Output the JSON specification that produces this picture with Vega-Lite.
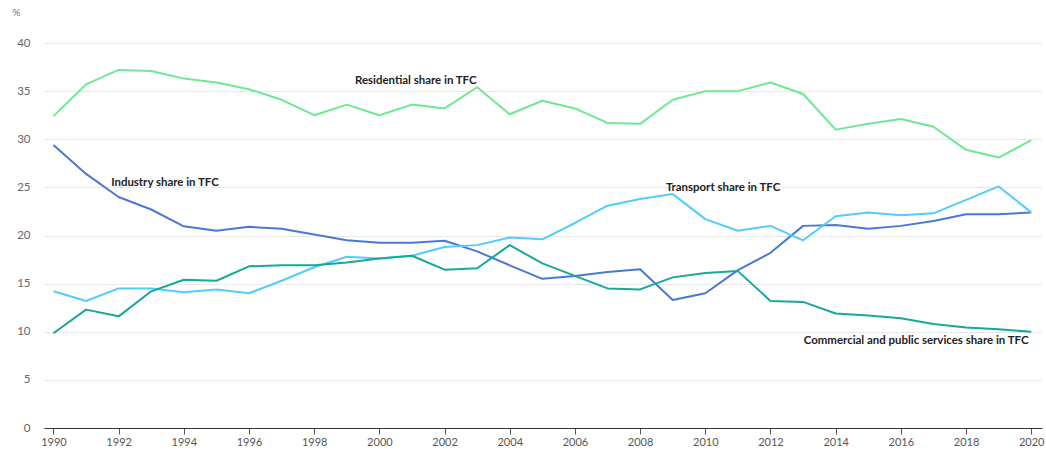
{
  "$schema": "https://vega.github.io/schema/vega-lite/v6.json",
  "width": 998,
  "height": 385,
  "autosize": {"type": "none"},
  "padding": {"left": 44, "top": 43, "right": 4, "bottom": 22},
  "background": "white",
  "config": {"view": {"stroke": null}, "font": "Lato"},
  "datasets": {
    "series": [
      {"year": 1990, "sector": "Residential", "share": 32.4},
      {"year": 1991, "sector": "Residential", "share": 35.7},
      {"year": 1992, "sector": "Residential", "share": 37.2},
      {"year": 1993, "sector": "Residential", "share": 37.1},
      {"year": 1994, "sector": "Residential", "share": 36.3},
      {"year": 1995, "sector": "Residential", "share": 35.9},
      {"year": 1996, "sector": "Residential", "share": 35.2},
      {"year": 1997, "sector": "Residential", "share": 34.1},
      {"year": 1998, "sector": "Residential", "share": 32.5},
      {"year": 1999, "sector": "Residential", "share": 33.6},
      {"year": 2000, "sector": "Residential", "share": 32.5},
      {"year": 2001, "sector": "Residential", "share": 33.6},
      {"year": 2002, "sector": "Residential", "share": 33.2},
      {"year": 2003, "sector": "Residential", "share": 35.4},
      {"year": 2004, "sector": "Residential", "share": 32.6},
      {"year": 2005, "sector": "Residential", "share": 34.0},
      {"year": 2006, "sector": "Residential", "share": 33.2},
      {"year": 2007, "sector": "Residential", "share": 31.7},
      {"year": 2008, "sector": "Residential", "share": 31.6},
      {"year": 2009, "sector": "Residential", "share": 34.1},
      {"year": 2010, "sector": "Residential", "share": 35.0},
      {"year": 2011, "sector": "Residential", "share": 35.0},
      {"year": 2012, "sector": "Residential", "share": 35.9},
      {"year": 2013, "sector": "Residential", "share": 34.7},
      {"year": 2014, "sector": "Residential", "share": 31.0},
      {"year": 2015, "sector": "Residential", "share": 31.6},
      {"year": 2016, "sector": "Residential", "share": 32.1},
      {"year": 2017, "sector": "Residential", "share": 31.3},
      {"year": 2018, "sector": "Residential", "share": 28.9},
      {"year": 2019, "sector": "Residential", "share": 28.1},
      {"year": 2020, "sector": "Residential", "share": 29.9},
      {"year": 1990, "sector": "Industry", "share": 29.4},
      {"year": 1991, "sector": "Industry", "share": 26.4},
      {"year": 1992, "sector": "Industry", "share": 24.0},
      {"year": 1993, "sector": "Industry", "share": 22.7},
      {"year": 1994, "sector": "Industry", "share": 20.95},
      {"year": 1995, "sector": "Industry", "share": 20.5},
      {"year": 1996, "sector": "Industry", "share": 20.9},
      {"year": 1997, "sector": "Industry", "share": 20.7},
      {"year": 1998, "sector": "Industry", "share": 20.1},
      {"year": 1999, "sector": "Industry", "share": 19.5},
      {"year": 2000, "sector": "Industry", "share": 19.25},
      {"year": 2001, "sector": "Industry", "share": 19.25},
      {"year": 2002, "sector": "Industry", "share": 19.45},
      {"year": 2003, "sector": "Industry", "share": 18.35},
      {"year": 2004, "sector": "Industry", "share": 16.9},
      {"year": 2005, "sector": "Industry", "share": 15.5},
      {"year": 2006, "sector": "Industry", "share": 15.8},
      {"year": 2007, "sector": "Industry", "share": 16.2},
      {"year": 2008, "sector": "Industry", "share": 16.5},
      {"year": 2009, "sector": "Industry", "share": 13.3},
      {"year": 2010, "sector": "Industry", "share": 14.0},
      {"year": 2011, "sector": "Industry", "share": 16.4},
      {"year": 2012, "sector": "Industry", "share": 18.2},
      {"year": 2013, "sector": "Industry", "share": 21.0},
      {"year": 2014, "sector": "Industry", "share": 21.1},
      {"year": 2015, "sector": "Industry", "share": 20.7},
      {"year": 2016, "sector": "Industry", "share": 21.0},
      {"year": 2017, "sector": "Industry", "share": 21.5},
      {"year": 2018, "sector": "Industry", "share": 22.2},
      {"year": 2019, "sector": "Industry", "share": 22.2},
      {"year": 2020, "sector": "Industry", "share": 22.4},
      {"year": 1990, "sector": "Transport", "share": 14.2},
      {"year": 1991, "sector": "Transport", "share": 13.2},
      {"year": 1992, "sector": "Transport", "share": 14.5},
      {"year": 1993, "sector": "Transport", "share": 14.5},
      {"year": 1994, "sector": "Transport", "share": 14.1},
      {"year": 1995, "sector": "Transport", "share": 14.4},
      {"year": 1996, "sector": "Transport", "share": 14.0},
      {"year": 1997, "sector": "Transport", "share": 15.3},
      {"year": 1998, "sector": "Transport", "share": 16.7},
      {"year": 1999, "sector": "Transport", "share": 17.8},
      {"year": 2000, "sector": "Transport", "share": 17.6},
      {"year": 2001, "sector": "Transport", "share": 17.9},
      {"year": 2002, "sector": "Transport", "share": 18.8},
      {"year": 2003, "sector": "Transport", "share": 19.0},
      {"year": 2004, "sector": "Transport", "share": 19.8},
      {"year": 2005, "sector": "Transport", "share": 19.6},
      {"year": 2006, "sector": "Transport", "share": 21.3},
      {"year": 2007, "sector": "Transport", "share": 23.1},
      {"year": 2008, "sector": "Transport", "share": 23.8},
      {"year": 2009, "sector": "Transport", "share": 24.3},
      {"year": 2010, "sector": "Transport", "share": 21.7},
      {"year": 2011, "sector": "Transport", "share": 20.5},
      {"year": 2012, "sector": "Transport", "share": 21.0},
      {"year": 2013, "sector": "Transport", "share": 19.5},
      {"year": 2014, "sector": "Transport", "share": 22.0},
      {"year": 2015, "sector": "Transport", "share": 22.4},
      {"year": 2016, "sector": "Transport", "share": 22.1},
      {"year": 2017, "sector": "Transport", "share": 22.3},
      {"year": 2018, "sector": "Transport", "share": 23.7},
      {"year": 2019, "sector": "Transport", "share": 25.1},
      {"year": 2020, "sector": "Transport", "share": 22.4},
      {"year": 1990, "sector": "Commercial", "share": 9.85},
      {"year": 1991, "sector": "Commercial", "share": 12.3},
      {"year": 1992, "sector": "Commercial", "share": 11.6},
      {"year": 1993, "sector": "Commercial", "share": 14.2},
      {"year": 1994, "sector": "Commercial", "share": 15.4},
      {"year": 1995, "sector": "Commercial", "share": 15.3},
      {"year": 1996, "sector": "Commercial", "share": 16.8},
      {"year": 1997, "sector": "Commercial", "share": 16.9},
      {"year": 1998, "sector": "Commercial", "share": 16.9},
      {"year": 1999, "sector": "Commercial", "share": 17.2},
      {"year": 2000, "sector": "Commercial", "share": 17.6},
      {"year": 2001, "sector": "Commercial", "share": 17.9},
      {"year": 2002, "sector": "Commercial", "share": 16.45},
      {"year": 2003, "sector": "Commercial", "share": 16.6},
      {"year": 2004, "sector": "Commercial", "share": 19.0},
      {"year": 2005, "sector": "Commercial", "share": 17.1},
      {"year": 2006, "sector": "Commercial", "share": 15.8},
      {"year": 2007, "sector": "Commercial", "share": 14.5},
      {"year": 2008, "sector": "Commercial", "share": 14.4},
      {"year": 2009, "sector": "Commercial", "share": 15.65},
      {"year": 2010, "sector": "Commercial", "share": 16.1},
      {"year": 2011, "sector": "Commercial", "share": 16.3},
      {"year": 2012, "sector": "Commercial", "share": 13.2},
      {"year": 2013, "sector": "Commercial", "share": 13.1},
      {"year": 2014, "sector": "Commercial", "share": 11.9},
      {"year": 2015, "sector": "Commercial", "share": 11.7},
      {"year": 2016, "sector": "Commercial", "share": 11.4},
      {"year": 2017, "sector": "Commercial", "share": 10.8},
      {"year": 2018, "sector": "Commercial", "share": 10.45},
      {"year": 2019, "sector": "Commercial", "share": 10.25},
      {"year": 2020, "sector": "Commercial", "share": 10.0}
    ],
    "labels": [
      {"year": 1999.25, "share": 36.1, "label": "Residential share in TFC"},
      {"year": 1991.77, "share": 25.5, "label": "Industry share in TFC"},
      {"year": 2008.79, "share": 24.9, "label": "Transport share in TFC"},
      {"year": 2013.02, "share": 9.07, "label": "Commercial and public services share in TFC"}
    ]
  },
  "layer": [
    {
      "data": {"name": "series"},
      "mark": {"type": "line", "strokeWidth": 2, "strokeJoin": "round"},
      "encoding": {
        "x": {
          "field": "year", "type": "quantitative",
          "scale": {"domain": [1989.71, 2020.33], "nice": false, "zero": false},
          "axis": {
            "title": null,
            "values": [1990, 1992, 1994, 1996, 1998, 2000, 2002, 2004, 2006, 2008, 2010, 2012, 2014, 2016, 2018, 2020],
            "format": "d",
            "grid": false,
            "domainColor": "#333333",
            "domainWidth": 1,
            "tickColor": "#555555",
            "tickSize": 6,
            "labelPadding": 2,
            "labelColor": "#555555",
            "labelFontSize": 11,
            "labelFont": "Lato"
          }
        },
        "y": {
          "field": "share", "type": "quantitative",
          "scale": {"domain": [0, 40], "nice": false},
          "axis": {
            "values": [0, 5, 10, 15, 20, 25, 30, 35, 40],
            "title": "%",
            "titleAngle": 0,
            "titleX": -32,
            "titleY": -31,
            "titleAlign": "left",
            "titleBaseline": "middle",
            "titleFont": "Lato",
            "titleFontWeight": "normal",
            "titleFontSize": 10,
            "titleColor": "#777777",
            "domain": false,
            "ticks": false,
            "labelPadding": 14,
            "labelColor": "#666666",
            "labelFontSize": 11.5,
            "labelFont": "Lato",
            "gridColor": "#e8e8e8",
            "gridWidth": 1
          }
        },
        "color": {
          "field": "sector", "type": "nominal",
          "scale": {
            "domain": ["Residential", "Industry", "Transport", "Commercial"],
            "range": ["#6ee894", "#4a78d4", "#52ccff", "#17a89a"]
          },
          "legend": null
        }
      }
    },
    {
      "data": {"name": "labels"},
      "mark": {"type": "text", "align": "left", "baseline": "middle", "font": "Lato", "fontWeight": "bold", "fontSize": 11.45, "color": "#222222"},
      "encoding": {
        "x": {"field": "year", "type": "quantitative"},
        "y": {"field": "share", "type": "quantitative"},
        "text": {"field": "label"}
      }
    }
  ]
}
